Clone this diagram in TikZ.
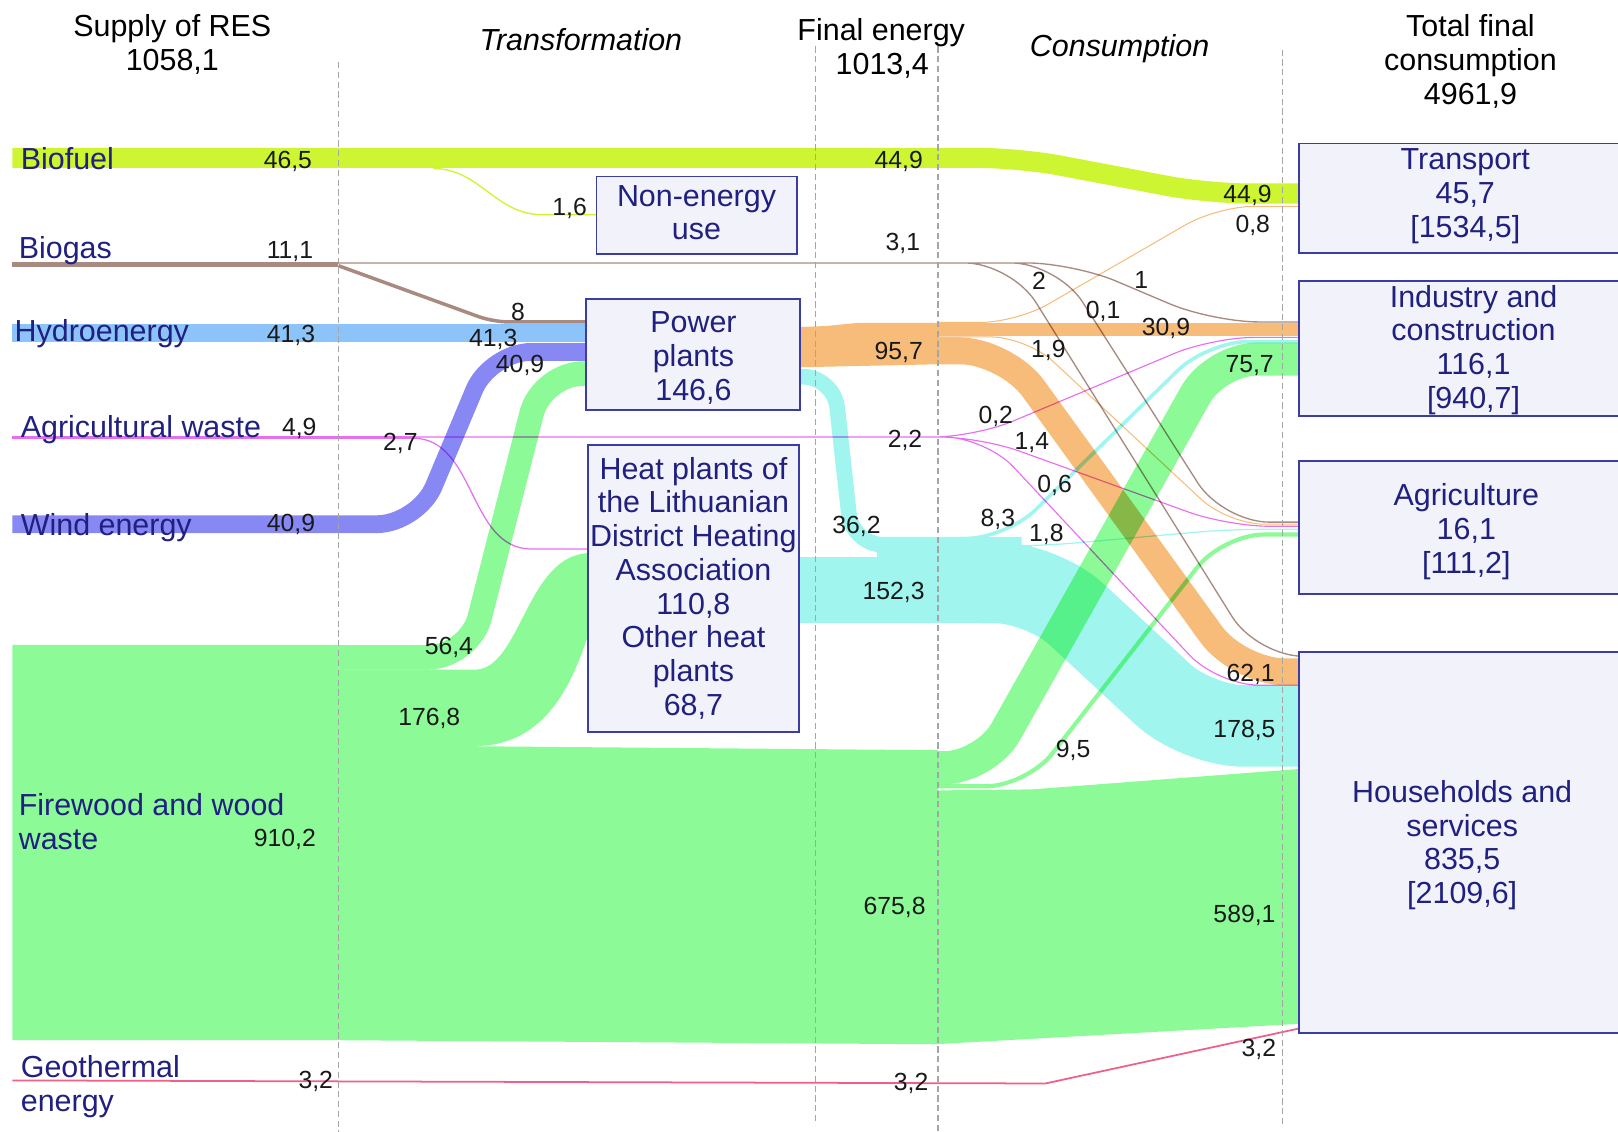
\documentclass[tikz,border=0pt]{standalone}
\usepackage{fontspec}
\setmainfont{Liberation Sans}
\definecolor{cBio}{RGB}{205,245,50}
\definecolor{cGas}{RGB}{168,138,128}
\definecolor{cHyd}{RGB}{140,196,250}
\definecolor{cWind}{RGB}{136,136,245}
\definecolor{cAgr}{RGB}{232,110,240}
\definecolor{cWood}{RGB}{140,250,150}
\definecolor{cGeo}{RGB}{240,95,135}
\definecolor{cEl}{RGB}{247,188,122}
\definecolor{cHeat}{RGB}{160,246,238}
\definecolor{labelblue}{RGB}{32,32,128}
\definecolor{boxline}{RGB}{60,60,165}
\definecolor{boxfill}{RGB}{242,242,250}
\definecolor{numcol}{RGB}{25,25,25}
\definecolor{sepgray}{RGB}{165,165,165}
\begin{document}
\begin{tikzpicture}[x=1pt,y=-1pt,
  lbl/.style={anchor=base west,inner sep=0pt,text=labelblue,font=\fontsize{29.5}{33}\selectfont},
  hdr/.style={anchor=base,inner sep=0pt,text=black,font=\fontsize{29.5}{33}\selectfont},
  hdri/.style={anchor=base,inner sep=0pt,text=black,font=\fontsize{29.5}{33}\selectfont\itshape},
  num/.style={anchor=base,inner sep=0pt,text=numcol,font=\fontsize{24}{28}\selectfont},
  box/.style={draw=boxline,fill=boxfill,line width=1.8pt,inner sep=0pt,rectangle},
  boxtxt/.style={align=center,inner sep=0pt,text=labelblue,font=\fontsize{29.5}{32.7}\selectfont},
  flow/.style={line cap=butt,line join=round},
  sep/.style={draw=sepgray,dash pattern=on 6pt off 3.5pt,line width=1.1pt}]
\useasboundingbox (0,0) rectangle (1568,1097);
\clip (0,0) rectangle (1568,1097);

% ---------- heat (painted first, on white) ----------
\draw[flow,cHeat,line width=15.2pt,rounded corners=30pt] (772,365) -- (808,365) -- (826,528) -- (990,528);
\fill[cHeat] (772,540) rectangle (1000,604);
\fill[cHeat] (850,528) rectangle (1000,541);
\draw[flow,cHeat,line width=79pt,rounded corners=45pt] (950,564.5) -- (1010,564.5) -- (1160,703.5) -- (1262,703.5);
\draw[flow,cHeat,line width=3.5pt,rounded corners=40pt] (930,522) -- (975,522) -- (1170,331) -- (1262,331);
\draw[flow,cHeat,line width=1.2pt,rounded corners=30pt] (950,529) -- (1010,529) -- (1190,513) -- (1262,513);

\begin{scope}[blend mode=multiply]
% ---------- firewood ----------
\fill[cWood] (12,625) -- (328,625) -- (328,1008) -- (12,1008) -- cycle
  (320,649) -- (460,649) .. controls (505,649) and (510,536) .. (572,536) -- (572,609) .. controls (556,660) and (530,723) .. (460,723) -- (320,723) -- cycle
  (320,722) -- (909,727) -- (909,1012) -- (320,1008) -- cycle
  (905,766) -- (1000,765) -- (1262,745) -- (1262,992) -- (905,1012) -- cycle;
\draw[flow,cWood,line width=23.7pt,rounded corners=40pt] (328,637) -- (455,637) -- (525,362) -- (572,362);
\draw[flow,cWood,line width=32pt,rounded corners=40pt] (909,744) -- (955,744) -- (1178,348) -- (1262,348);
\draw[flow,cWood,line width=4pt,rounded corners=40pt] (909,762) -- (995,762) -- (1185,518) -- (1262,518);

% ---------- electricity ----------
\fill[cEl] (772,317) -- (800,316) -- (830,313) -- (909,313) -- (909,353) -- (772,356) -- cycle;
\draw[flow,cEl,line width=13pt] (909,319.5) -- (1262,319.5);
\draw[flow,cEl,line width=26pt,rounded corners=45pt] (909,340) -- (975,340) -- (1200,651) -- (1262,651);
\draw[flow,cEl,line width=1pt,rounded corners=35pt] (909,312.5) -- (985,312.5) -- (1180,200) -- (1262,200)
  (909,326.5) -- (995,326.5) -- (1190,508) -- (1262,508);

% ---------- biofuel ----------
\draw[flow,cBio,line width=19.5pt,rounded corners=40pt] (12,153) -- (988,153) -- (1170,187.5) -- (1262,187.5);
\draw[flow,cBio,line width=1.3pt] (420,163.3) to[out=0,in=180] (525,208) -- (580,208);

% ---------- biogas ----------
\draw[flow,cGas,line width=4.6pt] (12,256) -- (328,256);
\draw[flow,cGas,line width=3.4pt,rounded corners=15pt] (328,257.5) -- (478,312) -- (570,312);
\draw[flow,cGas,line width=1.3pt,rounded corners=45pt] (328,254.8) -- (912,254.8)
  (909,254.8) -- (980,254.8) -- (1218,636) -- (1290,636)
  (909,254.8) -- (1025,254.8) -- (1185,506) -- (1262,506)
  (909,254.8) -- (1040,254.8) -- (1175,312) -- (1262,312);

% ---------- agricultural waste ----------
\draw[flow,cAgr,line width=2.1pt] (12,424) -- (400,424);
\draw[flow,cAgr,line width=1.1pt,rounded corners=40pt] (400,423.5) -- (912,423.5)
  (890,423.5) -- (945,423.5) -- (1175,327) -- (1262,327)
  (890,423.5) -- (950,423.5) -- (1190,510) -- (1262,510)
  (890,423.5) -- (955,423.5) -- (1180,664) -- (1262,664);
\draw[flow,cAgr,line width=1.2pt] (400,424.6) to[out=0,in=180] (515,532) -- (572,532);

% ---------- hydro, wind, geothermal ----------
\draw[flow,cHyd,line width=17.3pt] (12,323) -- (572,323);
\draw[flow,cWind,line width=17.2pt,rounded corners=40pt] (12,508) -- (405,508) -- (475,341) -- (572,341);
\draw[flow,cGeo,line width=1.7pt] (12,1047) -- (1013,1050) -- (1262,996);
\end{scope}

% ---------- boxes ----------
\node[box,minimum width=194pt,minimum height=75pt] (bNon) at (675,208.5) {};
\node[boxtxt] (tNon) at (675,206) {Non-energy\\use};
\node[box,minimum width=207pt,minimum height=107pt] (bPow) at (671.5,343.5) {};
\node[boxtxt] (tPow) at (672,347) {Power\\plants\\146,6};
\node[box,minimum width=204pt,minimum height=278pt] (bHeat) at (672,570) {};
\node[boxtxt] (tHeat) at (672,570) {Heat plants of\\the Lithuanian\\District Heating\\Association\\110,8\\Other heat\\plants\\68,7};
\node[box,minimum width=321pt,minimum height=106pt] (bTra) at (1419.5,192) {};
\node[boxtxt] (tTra) at (1420,190) {Transport\\45,7\\{[1534,5]}};
\node[box,minimum width=321pt,minimum height=131pt] (bInd) at (1419.5,337.5) {};
\node[boxtxt] (tInd) at (1428,339) {Industry and\\construction\\116,1\\{[940,7]}};
\node[box,minimum width=321pt,minimum height=129pt] (bAgr) at (1419.5,511.5) {};
\node[boxtxt] (tAgr) at (1421,515) {Agriculture\\16,1\\{[111,2]}};
\node[box,minimum width=321pt,minimum height=369pt] (bHou) at (1419.5,816.5) {};
\node[boxtxt] (tHou) at (1417,819) {Households and\\services\\835,5\\{[2109,6]}};

% ---------- separators ----------
\draw[sep] (328,60) -- (328,1097);
\draw[sep] (790,45) -- (790,1090);
\draw[sep] (909,45) -- (909,1097);
\draw[sep] (1243,48) -- (1243,1090);

% ---------- headers ----------
\node[hdr] (hSupply) at (167,35.5) {Supply of RES};
\node[hdr] (hSupplyV) at (167,68.5) {1058,1};
\node[hdri] (hTrans) at (563,48.5) {Transformation};
\node[hdr] (hFinal) at (854,39.5) {Final energy};
\node[hdr] (hFinalV) at (855,72.5) {1013,4};
\node[hdri] (hCons) at (1085,54.5) {Consumption};
\node[hdr] (hTot1) at (1425,35.5) {Total final};
\node[hdr] (hTot2) at (1425,68.5) {consumption};
\node[hdr] (hTot3) at (1425,101.5) {4961,9};

% ---------- source labels ----------
\node[lbl] (lBiofuel) at (20,164) {Biofuel};
\node[lbl] (lBiogas) at (18,250.5) {Biogas};
\node[lbl] (lHydro) at (14,330.5) {Hydroenergy};
\node[lbl] (lAgr) at (20,423.5) {Agricultural waste};
\node[lbl] (lWind) at (20,518.5) {Wind energy};
\node[lbl] (lWood1) at (18,790.5) {Firewood and wood};
\node[lbl] (lWood2) at (18,823) {waste};
\node[lbl] (lGeo1) at (20,1044.5) {Geothermal};
\node[lbl] (lGeo2) at (20,1077.5) {energy};

% ---------- values ----------
\node[num] (n1) at (279,163.6) {46,5};
\node[num] (n2) at (552,208.6) {1,6};
\node[num] (n3) at (871,163.6) {44,9};
\node[num] (n4) at (1209,196.6) {44,9};
\node[num] (n5) at (1214,225.6) {0,8};
\node[num] (n6) at (281,250.6) {11,1};
\node[num] (n7) at (875,242.6) {3,1};
\node[num] (n8) at (502,310.6) {8};
\node[num] (n9) at (1007,280.6) {2};
\node[num] (n10) at (1106,279.6) {1};
\node[num] (n11) at (1069,308.6) {0,1};
\node[num] (n12) at (282,331.6) {41,3};
\node[num] (n13) at (478,335.6) {41,3};
\node[num] (n14) at (504,360.6) {40,9};
\node[num] (n15) at (871,348.6) {95,7};
\node[num] (n16) at (1130,325.6) {30,9};
\node[num] (n17) at (1016,346.6) {1,9};
\node[num] (n18) at (1211,360.6) {75,7};
\node[num] (n19) at (290,421.6) {4,9};
\node[num] (n20) at (388,436.6) {2,7};
\node[num] (n21) at (877,433.6) {2,2};
\node[num] (n22) at (965,410.6) {0,2};
\node[num] (n23) at (1000,435.6) {1,4};
\node[num] (n24) at (1022,477.6) {0,6};
\node[num] (n25) at (282,514.6) {40,9};
\node[num] (n26) at (830,516.6) {36,2};
\node[num] (n27) at (967,510.6) {8,3};
\node[num] (n28) at (1014,524.6) {1,8};
\node[num] (n29) at (866,580.6) {152,3};
\node[num] (n30) at (435,634.6) {56,4};
\node[num] (n31) at (1212,660.6) {62,1};
\node[num] (n32) at (416,702.6) {176,8};
\node[num] (n33) at (1206,714.6) {178,5};
\node[num] (n34) at (1040,733.6) {9,5};
\node[num] (n35) at (276,820.6) {910,2};
\node[num] (n36) at (867,886.6) {675,8};
\node[num] (n37) at (1206,893.6) {589,1};
\node[num] (n38) at (306,1054.6) {3,2};
\node[num] (n39) at (883,1056.6) {3,2};
\node[num] (n40) at (1220,1023.6) {3,2};
\end{tikzpicture}
\end{document}
